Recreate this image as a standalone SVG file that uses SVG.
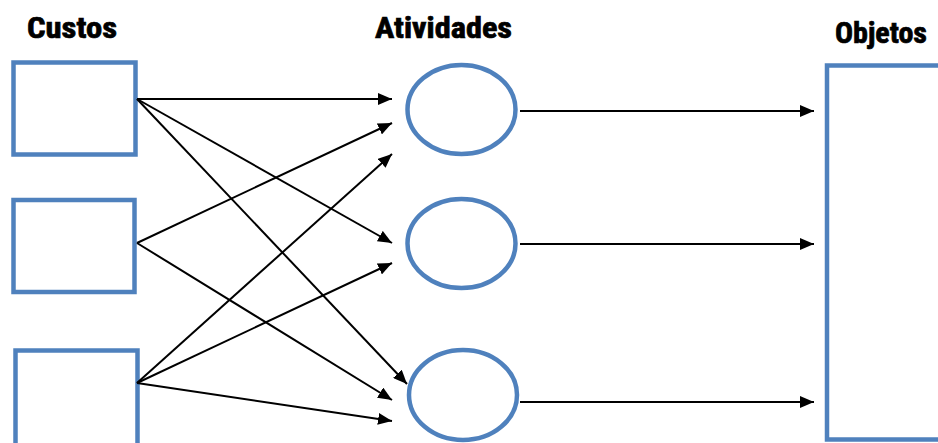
<svg xmlns="http://www.w3.org/2000/svg" width="938" height="443" viewBox="0 0 938 443">
  <defs>
    <marker id="arrow" markerWidth="14" markerHeight="12" refX="14" refY="6" orient="auto" markerUnits="userSpaceOnUse">
      <path d="M0,0 L14,6 L0,12 Z" fill="#000"/>
    </marker>
    <style>
      .title { font-family: "Liberation Sans Narrow", "Roboto Condensed", "Liberation Sans", Arial, sans-serif; font-weight: bold; font-size: 29px; fill: #000; stroke: #000; stroke-width: 0.7; }
      .node { fill: #fff; stroke: #4f81bd; stroke-width: 4.5; }
      .link { stroke: #000; stroke-width: 2; fill: none; marker-end: url(#arrow); }
    </style>
  </defs>
  <rect width="938" height="443" fill="#fff"/>

  <!-- column headings -->
  <text class="title" x="27" y="38" textLength="90" lengthAdjust="spacingAndGlyphs">Custos</text>
  <text class="title" x="375" y="38" textLength="137" lengthAdjust="spacingAndGlyphs">Atividades</text>
  <text class="title" x="835" y="43" textLength="92" lengthAdjust="spacingAndGlyphs">Objetos</text>

  <!-- cost nodes -->
  <g id="custo-1"><rect class="node" x="13.5" y="62.5" width="122" height="92"/></g>
  <g id="custo-2"><rect class="node" x="13.5" y="200" width="121" height="92"/></g>
  <g id="custo-3"><rect class="node" x="15.5" y="350.5" width="122" height="100"/></g>

  <!-- activity nodes -->
  <g id="atividade-1"><ellipse class="node" cx="461.5" cy="109.5" rx="54" ry="44.5"/></g>
  <g id="atividade-2"><ellipse class="node" cx="461.5" cy="243.5" rx="54" ry="44.5"/></g>
  <g id="atividade-3"><ellipse class="node" cx="463" cy="395" rx="54" ry="45"/></g>

  <!-- cost objects -->
  <g id="objetos"><rect class="node" x="827" y="65.5" width="130" height="374"/></g>

  <!-- connectors -->
  <g id="conectores">
    <line class="link" x1="137" y1="99" x2="392" y2="99"/>
    <line class="link" x1="137" y1="99" x2="392" y2="243"/>
    <line class="link" x1="137" y1="99" x2="407" y2="384"/>
    <line class="link" x1="137" y1="243" x2="392" y2="123"/>
    <line class="link" x1="137" y1="243" x2="392" y2="400"/>
    <line class="link" x1="137" y1="383" x2="392" y2="154"/>
    <line class="link" x1="137" y1="383" x2="392" y2="263"/>
    <line class="link" x1="137" y1="383" x2="392" y2="421"/>
    <line class="link" x1="520" y1="111" x2="814" y2="111"/>
    <line class="link" x1="520" y1="244" x2="814" y2="244"/>
    <line class="link" x1="520" y1="402" x2="814" y2="402"/>
  </g>
</svg>
